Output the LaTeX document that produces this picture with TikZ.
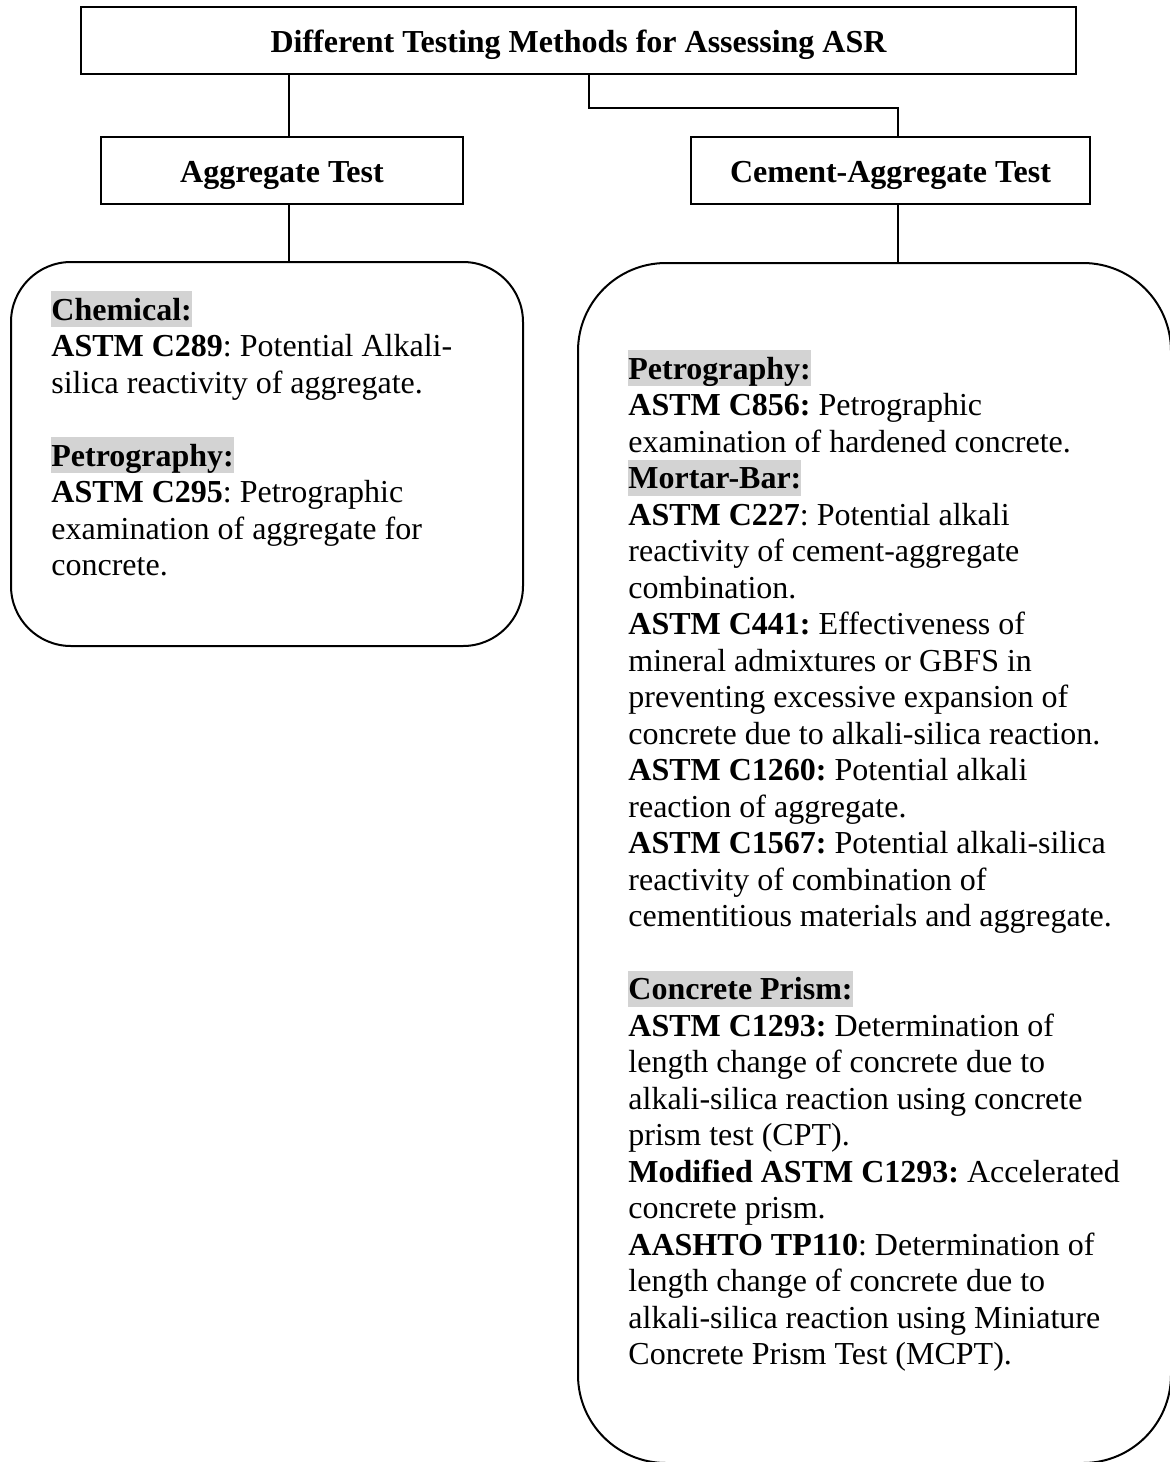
\documentclass[tikz,border=0pt]{standalone}
\usepackage{fontspec}
\setmainfont{Liberation Serif}
\frenchspacing
\definecolor{hlgray}{RGB}{211,211,211}
\newcommand{\hlbox}[1]{{\setlength{\fboxsep}{0pt}\colorbox{hlgray}{\rule[-3.5pt]{0pt}{18pt}\textbf{#1}}}}

\begin{document}
\begin{tikzpicture}[
    x=0.5pt, y=-0.5pt,
    every node/.style={font=\fontsize{16}{18.25}\selectfont},
    titlebox/.style={draw, line width=1.1pt, minimum width=497.5pt, minimum height=33.5pt,
                     text height=12pt, text depth=0pt,
                     font=\fontsize{16}{18.25}\selectfont\bfseries},
    testbox/.style={draw, line width=1.1pt, minimum height=33.5pt,
                    text height=12pt, text depth=0pt,
                    font=\fontsize{16}{18.25}\selectfont\bfseries},
    listbox/.style={draw, line width=1pt, rounded corners=#1},
    txt/.style={anchor=north west, inner sep=0pt, align=left},
    link/.style={line width=1.3pt}
]
\useasboundingbox (0,0) rectangle (1170,1462);

\node[titlebox] (top) at (578.5,40.5) {Different Testing Methods for Assessing ASR};
\node[testbox, minimum width=181pt]   (agg) at (282,170.5)   {Aggregate Test};
\node[testbox, minimum width=199.5pt] (cem) at (890.5,170.5) {Cement-Aggregate Test};

\node[listbox=30pt, minimum width=256pt, minimum height=192pt]   (aggbox) at (267,454)   {};
\node[listbox=44pt, minimum width=296.5pt, minimum height=600pt] (cembox) at (874.5,863) {};

\draw[link] ([xshift=3.5pt]agg.north |- top.south) -- ([xshift=3.5pt]agg.north);
\draw[link] ([xshift=5.25pt]top.south) -- ++(0,33) -| ([xshift=3.75pt]cem.north);
\draw[link] ([xshift=3.5pt]agg.south) -- ([xshift=3.5pt]agg.south |- aggbox.north);
\draw[link] ([xshift=3.75pt]cem.south) -- ([xshift=3.75pt]cem.south |- cembox.north);

% aggregate tests
\node[txt] (aggtxt) at (51,291) {\hlbox{Chemical:}\\
\textbf{ASTM C289}: Potential Alkali-\\
silica reactivity of aggregate.\\[18.25pt]
\hlbox{Petrography:}\\
\textbf{ASTM C295}: Petrographic\\
examination of aggregate for\\
concrete.};

% cement-aggregate tests
\node[txt] (cemtxt) at (628,350) {\hlbox{Petrography:}\\
\textbf{ASTM C856:} Petrographic\\
examination of hardened concrete.\\
\hlbox{Mortar-Bar:}\\
\textbf{ASTM C227}: Potential alkali\\
reactivity of cement-aggregate\\
combination.\\
\textbf{ASTM C441:} Effectiveness of\\
mineral admixtures or GBFS in\\
preventing excessive expansion of\\
concrete due to alkali-silica reaction.\\
\textbf{ASTM C1260:} Potential alkali\\
reaction of aggregate.\\
\textbf{ASTM C1567:} Potential alkali-silica\\
reactivity of combination of\\
cementitious materials and aggregate.\\[18.25pt]
\hlbox{Concrete Prism:}\\
\textbf{ASTM C1293:} Determination of\\
length change of concrete due to\\
alkali-silica reaction using concrete\\
prism test (CPT).\\
\textbf{Modified ASTM C1293:} Accelerated\\
concrete prism.\\
\textbf{AASHTO TP110}: Determination of\\
length change of concrete due to\\
alkali-silica reaction using Miniature\\
Concrete Prism Test (MCPT).};
\end{tikzpicture}
\end{document}
